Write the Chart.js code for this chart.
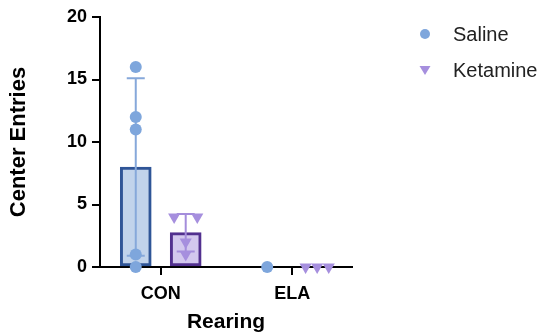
<!DOCTYPE html>
<html>
<head>
<meta charset="utf-8">
<script src="https://cdn.jsdelivr.net/npm/chart.js@4.4.1/dist/chart.umd.min.js"></script>
<style>
  html, body { margin: 0; padding: 0; background: #fff; }
  #wrap { width: 541px; height: 335px; }
</style>
</head>
<body>
<div id="wrap"><canvas id="myChart"></canvas></div>
<script>
// values
var rearing = ["CON", "ELA"];
var saline_con = [16, 12, 11, 1, 0];
var saline_ela = [0];
var ketamine_con = [4, 4, 2, 1];
var ketamine_ela = [0, 0, 0];
var y_ticks = [0, 5, 10, 15, 20];

var saline = [saline_con, saline_ela];
var ketamine = [ketamine_con, ketamine_ela];

function mean(a) {
  return a.reduce(function (s, v) { return s + v; }, 0) / a.length;
}
function sd(a) {
  if (a.length < 2) return 0;
  var m = mean(a);
  return Math.sqrt(a.reduce(function (s, v) { return s + (v - m) * (v - m); }, 0) / (a.length - 1));
}

// scatter points, tied values spread sideways like GraphPad does
function points(groups, shift) {
  var out = [];
  groups.forEach(function (vals, i) {
    vals.forEach(function (v, k) {
      var same = vals.filter(function (w) { return w === v; }).length;
      var rank = vals.slice(0, k).filter(function (w) { return w === v; }).length;
      var dx = same > 1 ? -0.088 + (0.176 * rank) / (same - 1) : 0;
      out.push({ x: i + shift + dx, y: v });
    });
  });
  return out;
}
function bars(groups, shift) {
  return groups.map(function (vals, i) { return { x: i + shift, y: mean(vals) }; });
}

var errorBars = {
  id: "errorBars",
  afterDatasetDraw: function (chart, args) {
    var ds = chart.data.datasets[args.index];
    if (!ds.errorColor) return;
    var y = chart.scales.y;
    var ctx = chart.ctx;
    args.meta.data.forEach(function (bar, i) {
      var vals = ds.groups[i];
      var m = mean(vals), s = sd(vals);
      if (!s) return;
      var top = y.getPixelForValue(m + s);
      var bot = y.getPixelForValue(m - s);
      ctx.save();
      ctx.strokeStyle = ds.errorColor;
      ctx.lineWidth = 2;
      ctx.beginPath();
      ctx.moveTo(bar.x, top); ctx.lineTo(bar.x, bot);
      ctx.moveTo(bar.x - 9, top); ctx.lineTo(bar.x + 9, top);
      ctx.moveTo(bar.x - 9, bot); ctx.lineTo(bar.x + 9, bot);
      ctx.stroke();
      ctx.restore();
    });
  },
};

var legendMarks = {
  id: "legendMarks",
  afterDraw: function (chart) {
    var ctx = chart.ctx;
    var a = chart.chartArea;
    var x = a.right + 73;
    ctx.save();
    ctx.font = "20px 'Liberation Sans', Arial, sans-serif";
    ctx.textBaseline = "middle";
    chart.data.datasets.forEach(function (ds) {
      if (!ds.legendRow) return;
      var cy = a.top + 17 + (ds.legendRow - 1) * 36;
      ctx.fillStyle = ds.backgroundColor;
      ctx.beginPath();
      if (ds.pointStyle === "circle") {
        ctx.arc(x, cy, 5, 0, Math.PI * 2);
      } else {
        ctx.moveTo(x - 5.5, cy - 4);
        ctx.lineTo(x + 5.5, cy - 4);
        ctx.lineTo(x, cy + 5);
        ctx.closePath();
      }
      ctx.fill();
      ctx.fillStyle = "#222";
      ctx.fillText(ds.label, x + 28, cy + 1);
    });
    ctx.restore();
  },
};

new Chart("myChart", {
  type: "bar",
  data: {
    datasets: [
      {
        type: "scatter",
        label: "Saline",
        legendRow: 1,
        data: points(saline, -0.19),
        pointStyle: "circle",
        pointRadius: 6,
        backgroundColor: "#7ea6dc",
        borderWidth: 0,
        clip: false,
        order: 1,
      },
      {
        type: "scatter",
        label: "Ketamine",
        legendRow: 2,
        data: points(ketamine, 0.19),
        pointStyle: "triangle",
        rotation: 180,
        pointRadius: 7,
        backgroundColor: "#a68fde",
        borderWidth: 0,
        clip: false,
        order: 1,
      },
      {
        label: "Saline mean",
        data: bars(saline, -0.19),
        groups: saline,
        errorColor: "#86a8da",
        backgroundColor: "#c1d3eb",
        borderColor: "#2f5597",
        borderWidth: 3,
        borderSkipped: false,
        barThickness: 31,
        grouped: false,
        order: 2,
      },
      {
        label: "Ketamine mean",
        data: bars(ketamine, 0.19),
        groups: ketamine,
        errorColor: "#a48ddb",
        backgroundColor: "#d3c8ee",
        borderColor: "#52308f",
        borderWidth: 3,
        borderSkipped: false,
        barThickness: 31,
        grouped: false,
        order: 2,
      },
    ],
  },
  options: {
    responsive: true,
    maintainAspectRatio: false,
    animation: false,
    layout: { padding: { top: 17, right: 189, left: 0, bottom: 0 } },
    plugins: {
      legend: { display: false },
      tooltip: { enabled: false },
    },
    scales: {
      x: {
        type: "linear",
        offset: false,
        min: -0.462,
        max: 1.455,
        afterFit: function (scale) { scale.height = 68; },
        afterBuildTicks: function (scale) {
          scale.ticks = rearing.map(function (c, i) { return { value: i }; });
        },
        ticks: {
          color: "#000",
          font: { family: "'Liberation Sans', Arial", size: 18, weight: "bold" },
          padding: 8,
          callback: function (v) { return rearing[v]; },
        },
        grid: { offset: false, drawOnChartArea: false, tickLength: 8, lineWidth: 2, color: "#000" },
        border: { color: "#000", width: 2 },
        title: {
          display: true,
          text: "Rearing",
          color: "#000",
          font: { family: "'Liberation Sans', Arial", size: 21, weight: "bold" },
          padding: { top: 0, bottom: 0 },
        },
      },
      y: {
        min: 0,
        max: 20,
        afterFit: function (scale) { scale.width = 100; },
        afterBuildTicks: function (scale) {
          scale.ticks = y_ticks.map(function (v) { return { value: v }; });
        },
        ticks: {
          color: "#000",
          font: { family: "'Liberation Sans', Arial", size: 18, weight: "bold" },
          padding: 5,
        },
        grid: { drawOnChartArea: false, tickLength: 8, lineWidth: 2, color: "#000" },
        border: { color: "#000", width: 2 },
        title: {
          display: true,
          text: "Center Entries",
          color: "#000",
          font: { family: "'Liberation Sans', Arial", size: 22, weight: "bold" },
          padding: { top: 6, bottom: 4 },
        },
      },
    },
  },
  plugins: [errorBars, legendMarks],
});
</script>
</body>
</html>
